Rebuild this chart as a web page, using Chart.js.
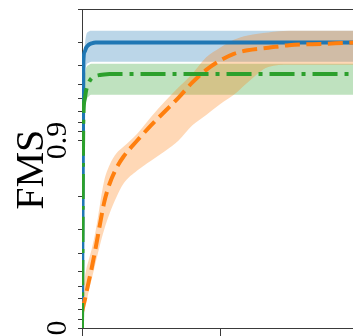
<!DOCTYPE html>
<html>
<head>
<meta charset="utf-8">
<script src="https://cdn.jsdelivr.net/npm/chart.js@4"></script>
<style>
  html, body { margin: 0; padding: 0; background: #fff; overflow: hidden; }
  #wrap { width: 353px; height: 336px; overflow: hidden; }
</style>
</head>
<body>
<div id="wrap"><canvas id="chart" width="440" height="380"></canvas></div>
<script>
// shared x grid (training steps)
const steps = [0, 1, 2, 3, 5, 7, 10, 13, 16, 20, 25, 30, 40, 50, 60, 70, 80, 90, 100, 110, 120, 135, 150, 175, 200, 250];

const blueMean  = [0, 0.962, 0.9665, 0.968, 0.9692, 0.9697, 0.970, 0.970, 0.970, 0.970, 0.970, 0.970, 0.970, 0.970, 0.970, 0.970, 0.970, 0.970, 0.970, 0.970, 0.970, 0.970, 0.970, 0.970, 0.970, 0.970];
const blueUpper = [0, 0.955, 0.969, 0.9725, 0.9738, 0.974, 0.974, 0.974, 0.974, 0.974, 0.974, 0.974, 0.974, 0.974, 0.974, 0.974, 0.974, 0.974, 0.974, 0.974, 0.974, 0.974, 0.974, 0.974, 0.974, 0.974];
const blueLower = [0, 0.93, 0.955, 0.96, 0.9615, 0.962, 0.962, 0.962, 0.962, 0.962, 0.962, 0.962, 0.962, 0.962, 0.962, 0.962, 0.962, 0.962, 0.962, 0.962, 0.962, 0.962, 0.962, 0.962, 0.962, 0.962];

const orangeMean  = [0.18, 0.24, 0.29, 0.345, 0.44, 0.52, 0.63, 0.72, 0.785, 0.83, 0.86, 0.878, 0.90, 0.917, 0.93, 0.941, 0.951, 0.958, 0.9625, 0.9655, 0.967, 0.968, 0.969, 0.9695, 0.970, 0.9702];
const orangeUpper = [0.29, 0.38, 0.46, 0.51, 0.57, 0.62, 0.70, 0.78, 0.835, 0.865, 0.883, 0.892, 0.908, 0.925, 0.938, 0.948, 0.956, 0.964, 0.968, 0.971, 0.9725, 0.9735, 0.974, 0.974, 0.974, 0.974];
const orangeLower = [0.08, 0.14, 0.20, 0.26, 0.37, 0.45, 0.555, 0.638, 0.70, 0.755, 0.80, 0.83, 0.8555, 0.872, 0.886, 0.90, 0.917, 0.927, 0.936, 0.943, 0.951, 0.9595, 0.9606, 0.9606, 0.9606, 0.9606];

const greenMean  = [0, 0.925, 0.94, 0.946, 0.951, 0.9535, 0.9548, 0.9553, 0.9556, 0.9558, 0.9558, 0.9558, 0.9558, 0.9558, 0.9558, 0.9558, 0.9558, 0.9558, 0.9558, 0.9558, 0.9558, 0.9558, 0.9558, 0.9558, 0.9558, 0.9558];
const greenUpper = [0, 0.94, 0.955, 0.959, 0.9605, 0.961, 0.961, 0.961, 0.961, 0.961, 0.961, 0.961, 0.961, 0.961, 0.961, 0.961, 0.961, 0.961, 0.961, 0.961, 0.961, 0.961, 0.961, 0.961, 0.961, 0.961];
const greenLower = [0, 0.89, 0.93, 0.938, 0.942, 0.943, 0.943, 0.943, 0.943, 0.943, 0.943, 0.943, 0.943, 0.943, 0.943, 0.943, 0.943, 0.943, 0.943, 0.943, 0.943, 0.943, 0.943, 0.943, 0.943, 0.943];

// y ticks: every tenth up to 0.9, then every hundredth; only two carry labels
const yTicks = [0, 0.1, 0.2, 0.3, 0.4, 0.5, 0.6, 0.7, 0.8, 0.9, 0.91, 0.92, 0.93, 0.94, 0.95, 0.96, 0.97, 0.98];
const yLabelled = [0, 0.9];
const yLabelText = ['0', '0.9'];
const yTitle = 'FMS';

const spine = '#3a3a3a';
const serif = '"Liberation Serif", "DejaVu Serif", serif';

// y axis that spreads values near 1: position follows -log10(1 - v)
const toT = v => -Math.log10(1 - v);
class OneMinusLogScale extends Chart.LinearScale {
  static id = 'oneMinusLog';
  getPixelForValue(value) {
    if (value === null || value === undefined || isNaN(value)) return NaN;
    const t0 = toT(this.min), t1 = toT(this.max);
    return this.getPixelForDecimal((toT(value) - t0) / (t1 - t0));
  }
  getValueForPixel(pixel) {
    const t0 = toT(this.min), t1 = toT(this.max);
    return 1 - Math.pow(10, -(t0 + this.getDecimalForPixel(pixel) * (t1 - t0)));
  }
}
Chart.register(OneMinusLogScale);

const pts = arr => arr.map((v, i) => ({ x: steps[i], y: v }));

function band(arr, rgba, fill) {
  return { data: pts(arr), borderWidth: 0, pointRadius: 0, backgroundColor: rgba,
           fill: fill, cubicInterpolationMode: 'monotone', order: 2 };
}
function curve(arr, color, dash, order) {
  return { data: pts(arr), borderColor: color, borderWidth: 4, borderDash: dash,
           pointRadius: 0, fill: false, cubicInterpolationMode: 'monotone', order: order };
}

// rotated y tick labels and axis title (drawn sideways, reading upwards)
const yText = {
  id: 'yText',
  afterDraw(chart) {
    const { ctx, scales, chartArea } = chart;
    const sideways = (text, x, y, size) => {
      ctx.save();
      ctx.font = size + 'px ' + serif;
      ctx.translate(x, y);
      ctx.rotate(-Math.PI / 2);
      ctx.fillText(text, 0, 0);
      ctx.restore();
    };
    ctx.save();
    ctx.fillStyle = '#000';
    ctx.textAlign = 'center';
    ctx.textBaseline = 'alphabetic';
    yLabelled.forEach((v, i) => sideways(yLabelText[i], 66, scales.y.getPixelForValue(v), 30));
    sideways(yTitle, 43, (chartArea.top + chartArea.bottom) / 2 + 1, 40);
    ctx.restore();
  }
};

new Chart(document.getElementById('chart'), {
  type: 'line',
  data: {
    datasets: [
      band(orangeUpper, 'rgba(255,127,14,0.3)', '+1'),
      band(orangeLower, 'rgba(255,127,14,0)', false),
      band(blueUpper, 'rgba(31,119,180,0.3)', '+1'),
      band(blueLower, 'rgba(31,119,180,0)', false),
      band(greenUpper, 'rgba(44,160,44,0.3)', '+1'),
      band(greenLower, 'rgba(44,160,44,0)', false),
      curve(blueMean, '#1f77b4', [], 1.2),
      curve(orangeMean, '#ff7f0e', [15, 6.5], 1.1),
      curve(greenMean, '#2ca02c', [25, 7, 4, 7], 1.0)
    ]
  },
  options: {
    responsive: false,
    animation: false,
    layout: { padding: { left: 0, right: 13, top: 0, bottom: 0 } },
    plugins: { legend: { display: false }, tooltip: { enabled: false } },
    scales: {
      x: {
        type: 'linear', position: 'bottom', min: 0, max: 250,
        ticks: { stepSize: 100, display: false },
        grid: { drawOnChartArea: false, color: spine, tickLength: 8 },
        border: { color: spine, width: 1 },
        afterFit: s => { s.height = 52; }
      },
      xTop: {
        type: 'linear', position: 'top', min: 0, max: 250,
        ticks: { display: false },
        grid: { display: false },
        border: { color: spine, width: 1 },
        afterFit: s => { s.height = 9.5; }
      },
      y: {
        type: 'oneMinusLog', min: 0, max: 0.98,
        ticks: { display: false },
        afterBuildTicks: s => { s.ticks = yTicks.map(v => ({ value: v })); },
        grid: { drawOnChartArea: false, color: spine, tickLength: 4 },
        border: { color: spine, width: 1 },
        afterFit: s => { s.width = 82; }
      }
    }
  },
  plugins: [yText]
});
</script>
</body>
</html>
